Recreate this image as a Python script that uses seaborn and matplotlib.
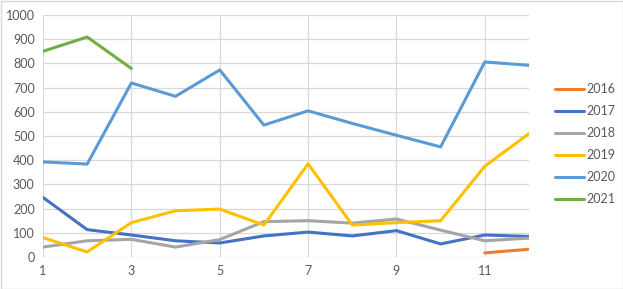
import matplotlib
matplotlib.use("Agg")
import matplotlib.pyplot as plt
import seaborn as sns
import numpy as np
import pandas as pd
from matplotlib.patches import Rectangle

months = list(range(1, 13))
s2016 = [None]*10 + [17, 32]
s2017 = [246, 113, 91, 67, 58, 87, 103, 87, 109, 54, 91, 85]
s2018 = [41, 67, 73, 41, 72, 146, 150, 140, 157, 111, 67, 78]
s2019 = [80, 21, 142, 191, 198, 132, 385, 132, 142, 150, 375, 510]
s2020 = [393, 384, 719, 664, 773, 545, 604, 552, 503, 455, 806, 792]
s2021 = [850, 909, 779] + [None]*9
years = ["2016", "2017", "2018", "2019", "2020", "2021"]
colors = ["#ED7D31", "#4472C4", "#A5A5A5", "#FFC000", "#5B9BD5", "#70AD47"]

rows = []
for yr, ser in zip(years, [s2016, s2017, s2018, s2019, s2020, s2021]):
    for m, v in zip(months, ser):
        if v is not None:
            rows.append({"month": m, "value": v, "year": yr})
df = pd.DataFrame(rows)

sns.set_theme(style="white")
plt.rcParams["font.family"] = ["Lato", "DejaVu Sans"]

fig = plt.figure(figsize=(6.23, 2.89), dpi=100)
ax = fig.add_axes([43/623, 1-257/289, (529-43)/623, (257-15)/289])

sns.lineplot(data=df, x="month", y="value", hue="year", hue_order=years,
             palette=dict(zip(years, colors)), linewidth=2.2, ax=ax, legend=True)

ax.set_xlim(1, 12)
ax.set_ylim(0, 1000)
ax.set_xticks([1, 3, 5, 7, 9, 11])
ax.set_yticks(range(0, 1001, 100))
ax.grid(True, color="#D9D9D9", linewidth=0.9)
ax.set_axisbelow(True)
for s in ax.spines.values():
    s.set_visible(False)
ax.set_xlabel("")
ax.set_ylabel("")
ax.tick_params(axis="both", length=0, labelsize=9, labelcolor="#595959", pad=6)

h, l = ax.get_legend_handles_labels()
ax.legend(h, l, loc="center left", bbox_to_anchor=(555/623, 1-144/289),
          bbox_transform=fig.transFigure, frameon=False, fontsize=9,
          labelcolor="#595959", handlelength=2.3, handletextpad=0.2,
          labelspacing=0.8, borderpad=0, borderaxespad=0)

fig.patches.append(Rectangle((0.5/623, 0.5/289), 1-1/623, 1-1/289,
                             transform=fig.transFigure, fill=False,
                             edgecolor="#D9D9D9", linewidth=1))
fig.savefig("out.png", dpi=100)
